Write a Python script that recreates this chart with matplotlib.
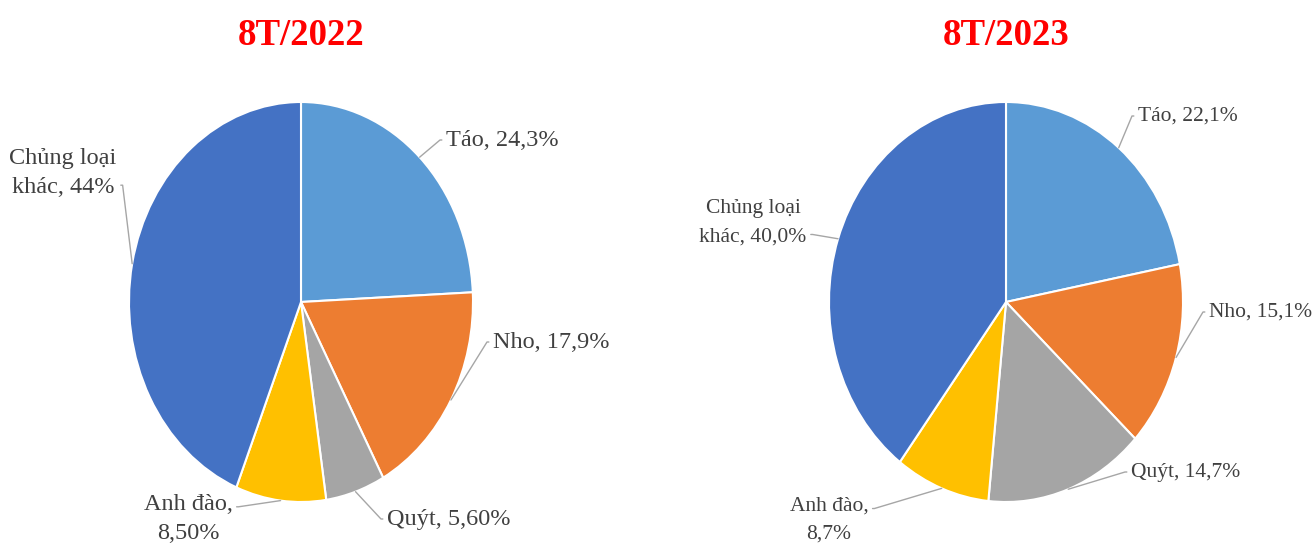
import matplotlib.pyplot as plt
import numpy as np

plt.rcParams['font.family'] = ['Liberation Serif', 'DejaVu Serif']

categories = ["Táo", "Nho", "Quýt", "Anh đào", "Chủng loại khác"]
share_2022 = [24.3, 17.9, 5.6, 8.5, 44.0]
share_2023 = [22.1, 15.1, 14.7, 8.7, 40.0]
labels_2022 = ["Táo, 24,3%", "Nho, 17,9%", "Quýt, 5,60%", "Anh đào,\n8,50%", "Chủng loại\nkhác, 44%"]
labels_2023 = ["Táo, 22,1%", "Nho, 15,1%", "Quýt, 14,7%", "Anh đào,\n8,7%", "Chủng loại\nkhác, 40,0%"]
colors = ["#5B9BD5", "#ED7D31", "#A5A5A5", "#FFC000", "#4472C4"]

W, H = 1313, 548

# label placement (image pixels, from top-left), alignment, leader attach point, stub direction
pos_2022 = [(446, 140, "left", (0, 0.5), 180),
            (493, 342, "left", (0, 0.5), 180),
            (387, 519, "left", (0, 0.5), 180),
            (188, 519, "center", (1, 0.74), 0),
            (63, 173, "center", (1, 0.26), 0)]
pos_2023 = [(1138, 116, "left", (0, 0.5), 180),
            (1209, 312, "left", (0, 0.5), 180),
            (1131, 472, "left", (0, 0.5), 180),
            (829, 520, "center", (1, 0.74), 0),
            (753, 223, "center", (1, 0.26), 0)]


def draw_pie(fig, rect, values, labels, positions, title, fs, ls):
    ax = fig.add_axes(rect)
    wedges, _ = ax.pie(values, colors=colors, startangle=90, counterclock=False,
                       wedgeprops=dict(edgecolor="white", linewidth=1.5))
    ax.set_aspect("auto")
    ax.set_xlim(-1, 1)
    ax.set_ylim(-1, 1)
    for w, lab, (x, y, ha, rel, ang) in zip(wedges, labels, positions):
        t = np.deg2rad((w.theta1 + w.theta2) / 2)
        ax.annotate(lab, xy=(np.cos(t), np.sin(t)), xycoords="data",
                    xytext=(x, H - y), textcoords="figure pixels",
                    ha=ha, va="center", fontsize=fs, color="#404040",
                    linespacing=ls, annotation_clip=False,
                    arrowprops=dict(arrowstyle="-", color="#A6A6A6", lw=1,
                                    shrinkA=1, shrinkB=0, relpos=rel,
                                    connectionstyle=f"arc,angleA={ang},armA=6,angleB=0,armB=0,rad=0"))
    cx = (rect[0] + rect[2] / 2)
    fig.text(cx, 1 - 45 / H, title, ha="center", va="baseline", fontsize=26.5,
             fontweight="bold", color="#FF0000")
    return ax


def main():
    fig = plt.figure(figsize=(W / 100, H / 100), dpi=100)
    draw_pie(fig, [129 / W, 46 / H, 344 / W, 400 / H], share_2022, labels_2022, pos_2022,
             "8T/2022", 17.5, 1.55)
    draw_pie(fig, [829 / W, 46 / H, 354 / W, 400 / H], share_2023, labels_2023, pos_2023,
             "8T/2023", 15.5, 1.7)
    fig.savefig("out.png", dpi=100)
    plt.close(fig)


if __name__ == "__main__":
    main()
